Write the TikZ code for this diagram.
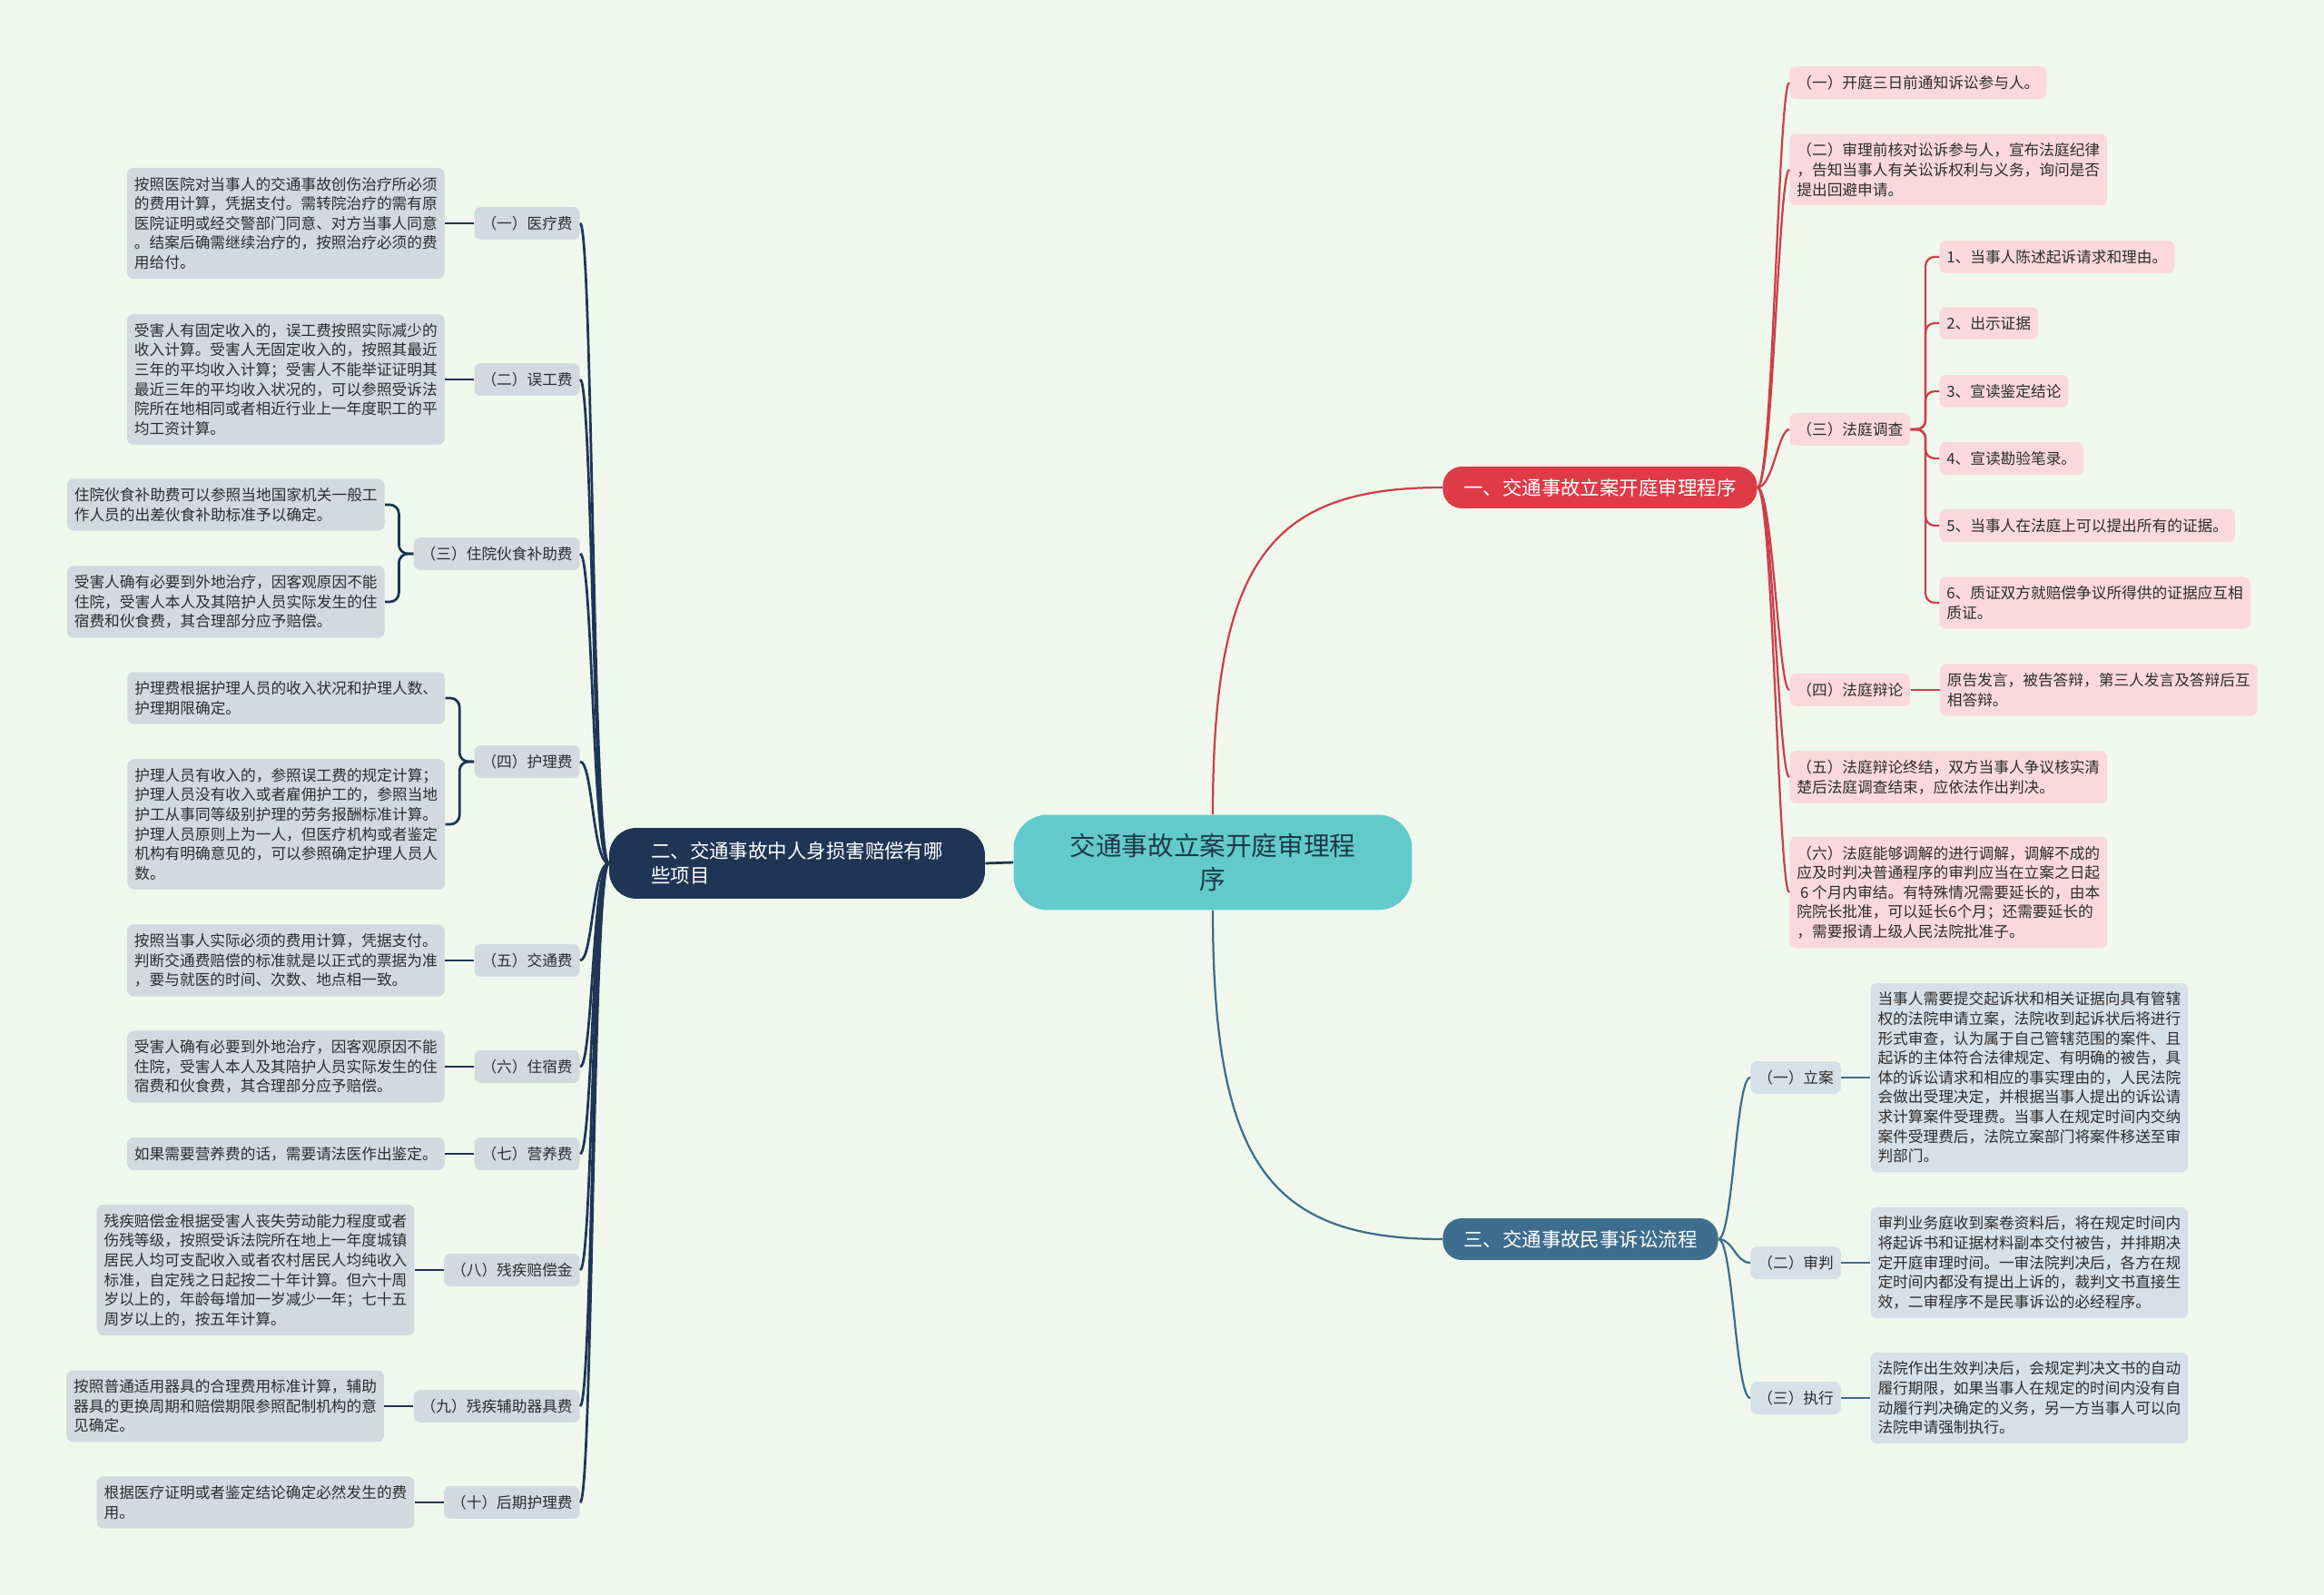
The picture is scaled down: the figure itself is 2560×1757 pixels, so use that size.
\documentclass[tikz,border=0pt]{standalone}
\usepackage{fontspec}
\setmainfont{Noto Sans CJK SC}
\usetikzlibrary{positioning}

\definecolor{bgc}{RGB}{240,248,237}
\definecolor{navyc}{RGB}{30,53,86}
\definecolor{ctrc}{RGB}{99,202,204}
\definecolor{ctrtxt}{RGB}{28,58,70}
\definecolor{redc}{RGB}{222,58,72}
\definecolor{redl}{RGB}{205,62,76}
\definecolor{bluec}{RGB}{62,110,142}
\definecolor{greyc}{RGB}{212,217,224}
\definecolor{pinkc}{RGB}{250,216,221}
\definecolor{palec}{RGB}{214,224,232}
\definecolor{txtc}{RGB}{45,45,45}

\newcommand\boxfont{\fontsize{9.5pt}{12.3pt}\selectfont}
\newcommand\brfont{\fontsize{12.2pt}{15.4pt}\selectfont}
\newcommand\ctrfont{\fontsize{16.3pt}{21pt}\selectfont}

\begin{document}
\begin{tikzpicture}[%
    x=0.02cm, y=-0.02cm,
    node distance=0.64cm,
    box/.style={%
      rounded corners=0.14cm,
      inner xsep=0.16cm,
      inner ysep=0.2cm,
      align=left,
      text=txtc,
      font=\boxfont},
    grey/.style={box, fill=greyc},
    pink/.style={box, fill=pinkc},
    pale/.style={box, fill=palec},
    branch/.style={%
      rounded corners=0.42cm,
      inner xsep=0.46cm,
      minimum height=0.92cm,
      text=white,
      font=\brfont},
    trunk/.style={line width=0.055cm, draw=navyc},
    redline/.style={line width=0.045cm, draw=redl},
    blueline/.style={line width=0.045cm, draw=bluec}
    ]
    \useasboundingbox[fill=bgc] (0,0) rectangle (2560,1757);

    \node[fill=ctrc, rounded corners=0.75cm, minimum width=8.78cm,
      minimum height=2.1cm, align=center, text=ctrtxt, font=\ctrfont]
      (0) at (1336,950) {交通事故立案开庭审理程\\序};
    \node[branch, fill=navyc, rounded corners=0.6cm, minimum width=8.28cm,
      minimum height=1.56cm, align=left]
      (2) at (878,951) {二、交通事故中人身损害赔偿有哪\\些项目};
    \node[branch, fill=redc, anchor=west] (1) at (1589,537) {一、交通事故立案开庭审理程序};
    \node[branch, fill=bluec, anchor=west] (3) at (1589,1365) {三、交通事故民事诉讼流程};

    \node[grey, anchor=east] (2-1) at (639,246) {（一）医疗费};
    \node[grey, anchor=east] (2-2) at (639,418) {（二）误工费};
    \node[grey, anchor=east] (2-3) at (639,610) {（三）住院伙食补助费};
    \node[grey, anchor=east] (2-4) at (639,839) {（四）护理费};
    \node[grey, anchor=east] (2-5) at (639,1058) {（五）交通费};
    \node[grey, anchor=east] (2-6) at (639,1175) {（六）住宿费};
    \node[grey, anchor=east] (2-7) at (639,1271) {（七）营养费};
    \node[grey, anchor=east] (2-8) at (639,1399) {（八）残疾赔偿金};
    \node[grey, anchor=east] (2-9) at (639,1549) {（九）残疾辅助器具费};
    \node[grey, anchor=east] (2-10) at (639,1655) {（十）后期护理费};

    \node[grey, left=of 2-1] (t2-1) {按照医院对当事人的交通事故创伤治疗所必须\\的费用计算，凭据支付。需转院治疗的需有原\\医院证明或经交警部门同意、对方当事人同意\\。结案后确需继续治疗的，按照治疗必须的费\\用给付。};
    \node[grey, left=of 2-2] (t2-2) {受害人有固定收入的，误工费按照实际减少的\\收入计算。受害人无固定收入的，按照其最近\\三年的平均收入计算；受害人不能举证证明其\\最近三年的平均收入状况的，可以参照受诉法\\院所在地相同或者相近行业上一年度职工的平\\均工资计算。};
    \node[grey, anchor=east] (t2-3a) at (424,556) {住院伙食补助费可以参照当地国家机关一般工\\作人员的出差伙食补助标准予以确定。};
    \node[grey, anchor=east] (t2-3b) at (424,663) {受害人确有必要到外地治疗，因客观原因不能\\住院，受害人本人及其陪护人员实际发生的住\\宿费和伙食费，其合理部分应予赔偿。};
    \node[grey, anchor=east] (t2-4a) at (490.5,769) {护理费根据护理人员的收入状况和护理人数、\\护理期限确定。};
    \node[grey, anchor=east] (t2-4b) at (490.5,908) {护理人员有收入的，参照误工费的规定计算；\\护理人员没有收入或者雇佣护工的，参照当地\\护工从事同等级别护理的劳务报酬标准计算。\\护理人员原则上为一人，但医疗机构或者鉴定\\机构有明确意见的，可以参照确定护理人员人\\数。};
    \node[grey, left=of 2-5] (t2-5) {按照当事人实际必须的费用计算，凭据支付。\\判断交通费赔偿的标准就是以正式的票据为准\\，要与就医的时间、次数、地点相一致。};
    \node[grey, left=of 2-6] (t2-6) {受害人确有必要到外地治疗，因客观原因不能\\住院，受害人本人及其陪护人员实际发生的住\\宿费和伙食费，其合理部分应予赔偿。};
    \node[grey, left=of 2-7] (t2-7) {如果需要营养费的话，需要请法医作出鉴定。};
    \node[grey, left=of 2-8] (t2-8) {残疾赔偿金根据受害人丧失劳动能力程度或者\\伤残等级，按照受诉法院所在地上一年度城镇\\居民人均可支配收入或者农村居民人均纯收入\\标准，自定残之日起按二十年计算。但六十周\\岁以上的，年龄每增加一岁减少一年；七十五\\周岁以上的，按五年计算。};
    \node[grey, left=of 2-9] (t2-9) {按照普通适用器具的合理费用标准计算，辅助\\器具的更换周期和赔偿期限参照配制机构的意\\见确定。};
    \node[grey, left=of 2-10] (t2-10) {根据医疗证明或者鉴定结论确定必然发生的费\\用。};

    \node[pink, anchor=west] (1-1) at (1971,91) {（一）开庭三日前通知诉讼参与人。};
    \node[pink, anchor=west] (1-2) at (1971,187) {（二）审理前核对讼诉参与人，宣布法庭纪律\\，告知当事人有关讼诉权利与义务，询问是否\\提出回避申请。};
    \node[pink, anchor=west] (1-3) at (1971,473) {（三）法庭调查};
    \node[pink, anchor=west] (1-4) at (1971,760) {（四）法庭辩论};
    \node[pink, anchor=west] (1-5) at (1971,856) {（五）法庭辩论终结，双方当事人争议核实清\\楚后法庭调查结束，应依法作出判决。};
    \node[pink, anchor=west] (1-6) at (1971,983) {（六）法庭能够调解的进行调解，调解不成的\\应及时判决普通程序的审判应当在立案之日起\\~6 个月内审结。有特殊情况需要延长的，由本\\院院长批准，可以延长6个月；还需要延长的\\，需要报请上级人民法院批准子。};
    \node[pink, anchor=west] (1-3-1) at (2136,283) {1、当事人陈述起诉请求和理由。};
    \node[pink, anchor=west] (1-3-2) at (2136,356) {2、出示证据};
    \node[pink, anchor=west] (1-3-3) at (2136,431) {3、宣读鉴定结论};
    \node[pink, anchor=west] (1-3-4) at (2136,505) {4、宣读勘验笔录。};
    \node[pink, anchor=west] (1-3-5) at (2136,579) {5、当事人在法庭上可以提出所有的证据。};
    \node[pink, anchor=west] (1-3-6) at (2136,664) {6、质证双方就赔偿争议所得供的证据应互相\\质证。};
    \node[pink, right=of 1-4] (t1-4) {原告发言，被告答辩，第三人发言及答辩后互\\相答辩。};

    \node[pale, anchor=west] (3-1) at (1928,1187) {（一）立案};
    \node[pale, anchor=west] (3-2) at (1928,1391) {（二）审判};
    \node[pale, anchor=west] (3-3) at (1928,1540) {（三）执行};
    \node[pale, right=of 3-1] (t3-1) {当事人需要提交起诉状和相关证据向具有管辖\\权的法院申请立案，法院收到起诉状后将进行\\形式审查，认为属于自己管辖范围的案件、且\\起诉的主体符合法律规定、有明确的被告，具\\体的诉讼请求和相应的事实理由的，人民法院\\会做出受理决定，并根据当事人提出的诉讼请\\求计算案件受理费。当事人在规定时间内交纳\\案件受理费后，法院立案部门将案件移送至审\\判部门。};
    \node[pale, right=of 3-2] (t3-2) {审判业务庭收到案卷资料后，将在规定时间内\\将起诉书和证据材料副本交付被告，并排期决\\定开庭审理时间。一审法院判决后，各方在规\\定时间内都没有提出上诉的，裁判文书直接生\\效，二审程序不是民事诉讼的必经程序。};
    \node[pale, right=of 3-3] (t3-3) {法院作出生效判决后，会规定判决文书的自动\\履行期限，如果当事人在规定的时间内没有自\\动履行判决确定的义务，另一方当事人可以向\\法院申请强制执行。};

    \draw[trunk] (0.west) -- (2.east);
    \draw[redline] (0.north) .. controls +(0,-280) and +(-190,0) .. (1.west);
    \draw[blueline] (0.south) .. controls +(0,280) and +(-190,0) .. (3.west);

    \foreach \i in {1,...,10}
      \draw[trunk] (2.west) .. controls +(-18,0) and +(14,0) .. (2-\i.east);
    \foreach \i in {1,2,5,6,7,8,9,10}
      \draw[trunk] (2-\i.west) -- (t2-\i.east);
    \foreach \i in {3,4}
      \foreach \j in {a,b}
        \draw[trunk, rounded corners=0.2cm] (2-\i.west) -- ++(-16,0) |- (t2-\i\j.east);

    \foreach \i in {1,...,6}
      \draw[redline] (1.east) .. controls +(17,0) and +(-12,0) .. (1-\i.west);
    \foreach \i in {1,...,6}
      \draw[redline, rounded corners=0.2cm] (1-3.east) -- ++(16.5,0) |- (1-3-\i.west);
    \draw[redline] (1-4.east) -- (t1-4.west);

    \foreach \i in {1,2,3} {
      \draw[blueline] (3.east) .. controls +(16,0) and +(-16,0) .. (3-\i.west);
      \draw[blueline] (3-\i.east) -- (t3-\i.west);
    }
  \end{tikzpicture}
\end{document}
